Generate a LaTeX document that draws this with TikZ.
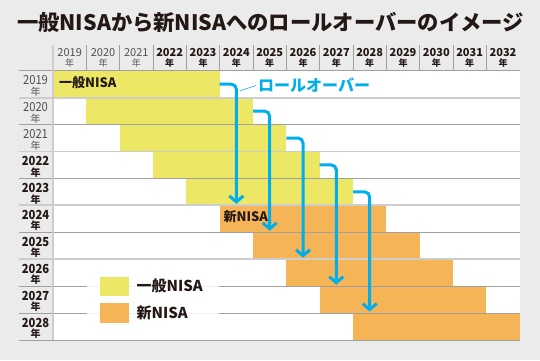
\documentclass[tikz,border=0pt]{standalone}
\usepackage{fontspec}
\setmainfont{Noto Sans CJK JP}
\usetikzlibrary{arrows.meta}
\definecolor{bg}{HTML}{EBEBEB}
\definecolor{ylw}{HTML}{ECE866}
\definecolor{org}{HTML}{F5B557}
\definecolor{cyn}{HTML}{00AEEB}
\definecolor{ink}{HTML}{231815}
\definecolor{lgray}{HTML}{CDCDCD}
\definecolor{dgray}{HTML}{A0A0A0}
\definecolor{sgray}{HTML}{505050}
\newcommand\cnd[1]{\scalebox{0.9}[1]{#1}}
\begin{document}
\begin{tikzpicture}[x=1pt,y=-1pt,
  bar/.style={inner sep=0pt,outer sep=0pt,minimum width=166.67pt,minimum height=26.93pt,draw=none,anchor=north west},
  lt/.style={inner sep=0pt,text=sgray,font=\fontsize{11}{11}\selectfont},
  bd/.style={inner sep=0pt,text=ink,font=\bfseries\fontsize{11}{11}\selectfont},
  ltr/.style={inner sep=0pt,text=sgray,font=\fontsize{12.5}{12.5}\selectfont},
  bdr/.style={inner sep=0pt,text=ink,font=\bfseries\fontsize{12.5}{12.5}\selectfont},
  ltn/.style={inner sep=0pt,text=sgray,font=\fontsize{9}{9}\selectfont},
  bdn/.style={inner sep=0pt,text=ink,font=\bfseries\fontsize{9}{9}\selectfont},
  ltm/.style={inner sep=0pt,text=sgray,font=\fontsize{10}{10}\selectfont},
  bdm/.style={inner sep=0pt,text=ink,font=\bfseries\fontsize{10}{10}\selectfont},
  arr/.style={cyn,line width=3pt,rounded corners=5pt,-{Straight Barb[length=6pt,width=14pt]}},
  lbl/.style={inner sep=0pt,anchor=west,text=ink,font=\bfseries\fontsize{13}{13}\selectfont},
  leg/.style={inner sep=0pt,anchor=west,text=ink,font=\bfseries\fontsize{15}{15}\selectfont}
]
\def\RH{26.93}
\def\CW{33.333}
\fill[bg] (0,0) rectangle (540,360);
\useasboundingbox (0,0) rectangle (540,360);
\fill[white] (53,70.7) rectangle (520,340);
% bars
\foreach \i in {0,...,4} {
  \node[bar,fill=ylw] (y\i) at ({53+\CW*\i},{70.7+\RH*\i}) {};
  \node[bar,fill=org] (n\i) at ({53+\CW*(5+\i)},{70.7+\RH*(5+\i)}) {};
}
% row lines
\foreach \k/\c/\w in {0/dgray/0.9,1/lgray/1.8,2/dgray/0.9,3/lgray/1.8,4/dgray/0.9,5/lgray/1.8,6/dgray/0.9,7/lgray/1.8,8/dgray/0.9,9/dgray/0.9,10/dgray/0.9}
  \draw[\c,line width=\w pt] (19,{70.7+\RH*\k}) -- (520,{70.7+\RH*\k});
% header separators
\foreach \k in {1,...,13}
  \draw[dgray,line width=0.8pt] ({53+\CW*\k},45) -- ({53+\CW*\k},70.7);
\draw[lgray,line width=1.5pt] (53,45) -- (53,340);
% header and row labels
\foreach \k/\s/\t in {0/lt/ltn,1/lt/ltn,2/lt/ltn,3/bd/bdn,4/bd/bdn,5/bd/bdn,6/bd/bdn,7/bd/bdn,8/bd/bdn,9/bd/bdn,10/bd/bdn,11/bd/bdn,12/bd/bdn,13/bd/bdn} {
  \pgfmathtruncatemacro\yr{2019+\k}
  \node[\s] (hy\k) at ({53+\CW*(\k+0.5)},52.3) {\yr};
  \node[\t] (hn\k) at ({53+\CW*(\k+0.5)},62.6) {年};
}
\foreach \k/\s/\t in {0/ltr/ltm,1/ltr/ltm,2/ltr/ltm,3/bdr/bdm,4/bdr/bdm,5/bdr/bdm,6/bdr/bdm,7/bdr/bdm,8/bdr/bdm,9/bdr/bdm} {
  \pgfmathtruncatemacro\yr{2019+\k}
  \node[\s] (ry\k) at (35.5,{70.7+\RH*\k+9.5}) {\cnd{\yr}};
  \node[\t] (rn\k) at (35.5,{70.7+\RH*\k+20.8}) {年};
}
% bar labels
\node[lbl] (l1) at (59,82.7) {一般NISA};
\node[lbl] (l2) at (223.5,216.7) {新NISA};
% arrows
\foreach \i in {0,...,4} {
  \coordinate (e\i) at ([xshift=16.67pt,yshift=1.5pt]n\i.north west);
  \draw[arr] (y\i.east) -| (e\i);
}
\node[inner sep=0pt,anchor=west,text=cyn,font=\bfseries\fontsize{16}{16}\selectfont] (ro) at (258,85.5) {ロールオーバー};
\coordinate (lead) at (239.5,91);
\draw[cyn,line width=0.5pt] (lead) -- ([xshift=-2pt]ro.west);
% legend
\fill[white,opacity=0.85] (87,264) rectangle (219,334);
\node[inner sep=0pt,outer sep=0pt,fill=ylw,minimum width=29pt,minimum height=19pt,anchor=north west] (ky) at (100,276.7) {};
\node[inner sep=0pt,outer sep=0pt,fill=org,minimum width=29pt,minimum height=19.4pt,anchor=north west] (ko) at (100,303.3) {};
\node[leg] (ty) at (136.5,286) {一般NISA};
\node[leg] (to) at (136.5,313) {新NISA};
% title
\node[inner sep=0pt,text=ink,font=\bfseries\fontsize{21.3}{21.3}\selectfont] (title) at (270.5,22) {一般NISAから新NISAへのロールオーバーのイメージ};
\end{tikzpicture}
\end{document}
